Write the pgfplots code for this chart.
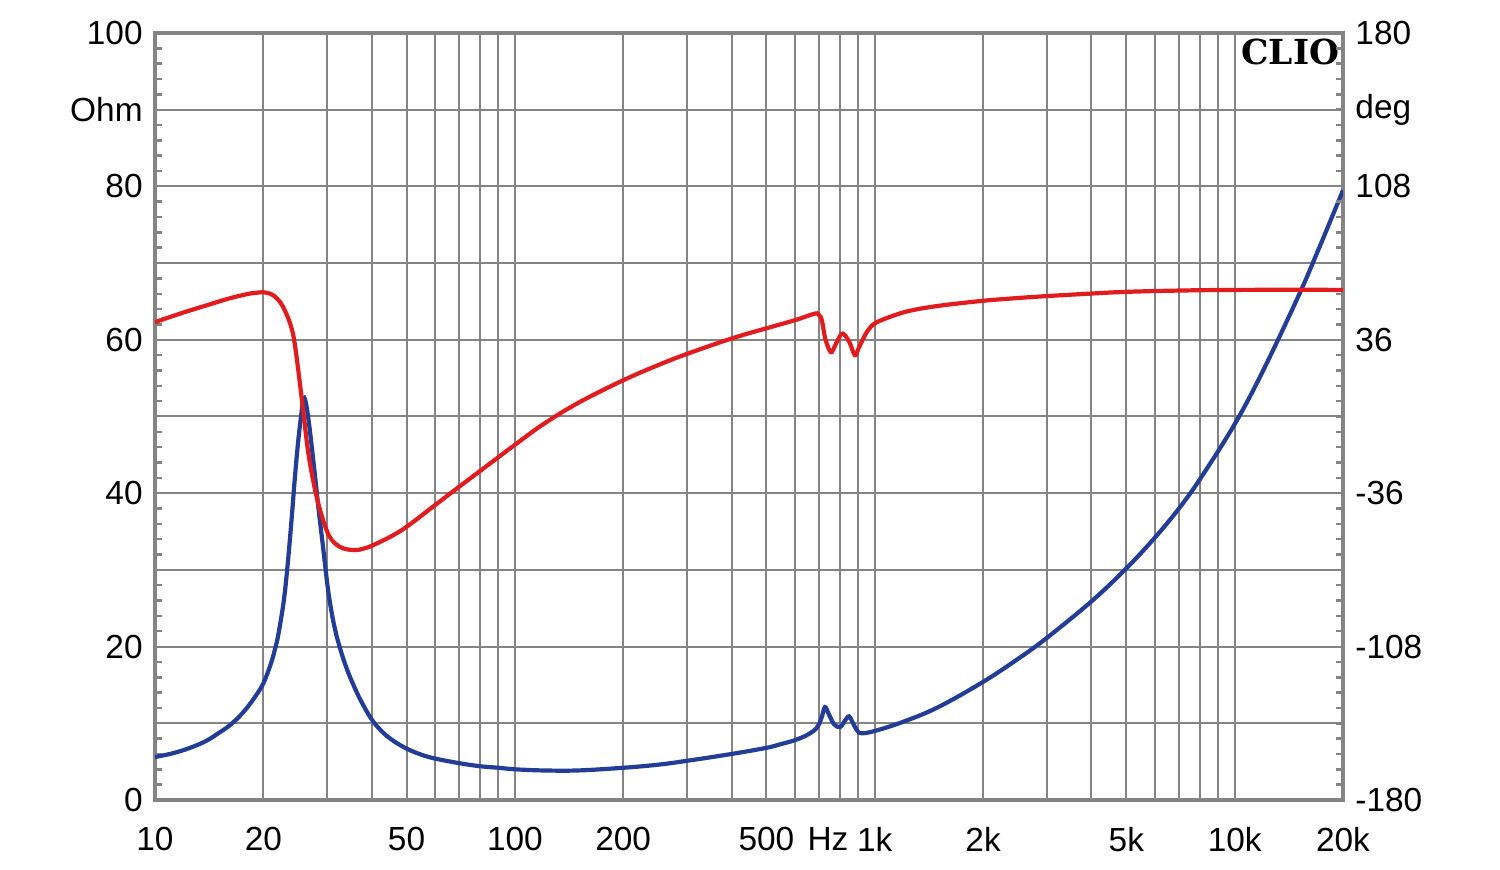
\documentclass[border=0pt]{standalone}
\usepackage{pgfplots}
\pgfplotsset{compat=1.18}
\usepackage{fontspec}
\setmainfont{Liberation Sans}
\newfontfamily\cliofont{DejaVu Serif}
\definecolor{gridgray}{RGB}{132,132,132}
\definecolor{curvered}{RGB}{224,28,30}
\definecolor{curveblue}{RGB}{35,60,150}

\begin{document}
\begin{tikzpicture}
\useasboundingbox (-15.5mm,-7mm) rectangle (134.5mm,80mm);
\begin{axis}[
  at={(0,0)}, anchor=south west,
  width=118.8mm, height=76.7mm, scale only axis,
  xmode=log, xmin=10, xmax=20000,
  ymin=0, ymax=100,
  tick align=inside,
  major tick length=0pt, minor tick length=0.7mm,
  tick style={gridgray, line width=0.25mm},
  tick label style={font=\fontsize{9.5}{11}\selectfont, black},
  xtick={10,20,30,40,50,60,70,80,90,100,200,300,400,500,600,700,800,900,1000,2000,3000,4000,5000,6000,7000,8000,9000,10000,20000},
  xticklabels={10,20,,,50,,,,,100,200,,,500,,,,,1k,2k,,,5k,,,,,10k,20k},
  extra x ticks={741}, extra x tick labels={Hz},
  extra x tick style={grid=none},
  xtick style={draw=none},
  xticklabel style={yshift=-1.5mm},
  ytick={0,10,20,30,40,50,60,70,80,90,100},
  yticklabels={0,,20,,40,,60,,80,Ohm,100},
  minor y tick num=4,
  ytick pos=left,
  xmajorgrids, ymajorgrids,
  axis line style={gridgray, line width=0.35mm},
  major grid style={gridgray, line width=0.2mm},
]
\addplot[curveblue, line width=0.42mm, smooth, tension=0.6] coordinates {
(10,5.6) (11,6.0) (12,6.5) (13,7.1) (14,7.8) (15,8.7) (16,9.6) (17,10.7)
(18,12.0) (19,13.5) (20,15.2) (21,17.8) (21.5,19.5) (22,21.5) (22.8,26.0)
(23.4,31.0) (24,37.0) (24.5,42.3) (25,46.8) (25.5,50.3) (25.9,52.4)
(26.3,51.6) (26.8,49.0) (27.3,45.8) (27.8,42.5) (28.5,37.8) (29.3,33.0)
(30,28.8) (30.5,26.3) (31.2,23.6) (32,21.3) (33,19.1) (34,17.3) (35,15.8)
(37,13.3) (40,10.5) (43,8.8) (46,7.7) (50,6.7) (55,5.9) (60,5.4) (70,4.8)
(80,4.4) (90,4.2) (100,4.0) (120,3.85) (150,3.85) (200,4.2) (250,4.6)
(300,5.1) (400,6.0) (500,6.8) (550,7.3) (600,7.8) (650,8.5) (690,9.4)
(710,10.6) (727,12.1) (745,11.2) (770,9.9) (800,9.5) (825,10.3) (848,10.9)
(870,10.0) (895,9.0) (921,8.7) (1000,9.0) (1200,10.2) (1500,12.1)
(2000,15.4) (2500,18.4) (3000,21.1) (4000,25.9) (5000,30.2) (6000,34.2)
(7000,38.0) (8000,41.8) (10000,49.0) (12000,56.0) (15000,65.6)
(17000,71.5) (20000,79.5)
};
\node[anchor=north east, inner sep=0pt, font=\cliofont\bfseries\fontsize{9.8}{12}\selectfont, xshift=-0.3mm, yshift=-0.5mm]
  at (rel axis cs:1,1) {CLIO};
\end{axis}
\begin{axis}[
  at={(0,0)}, anchor=south west,
  width=118.8mm, height=76.7mm, scale only axis,
  xmode=log, xmin=10, xmax=20000,
  ymin=-180, ymax=180,
  tick align=inside,
  major tick length=0pt, minor tick length=0.7mm,
  tick style={gridgray, line width=0.25mm},
  tick label style={font=\fontsize{9.5}{11}\selectfont, black},
  hide x axis,
  axis line style={draw=none},
  ytick={-180,-108,-36,36,108,180},
  yticklabels={-180,-108,-36,36,108,180},
  extra y ticks={144}, extra y tick labels={deg},
  minor y tick num=9,
  ytick pos=right,
]
\addplot[curvered, line width=0.42mm, smooth, tension=0.6] coordinates {
(10,44.3) (12,48.8) (14,52.3) (16,55.3) (18,57.4) (19,58.0) (20,58.3)
(21,57.5) (21.5,56.4) (22,54.8) (22.6,52.0) (23.2,48.0) (23.7,44.0)
(24.2,38.5) (24.6,31.0) (25,22.0) (25.8,3.0) (26.6,-15.8) (27.6,-31.3)
(28.7,-43.5) (30,-53.5) (31,-58.0) (32.6,-61.2) (34.5,-62.5) (36.4,-62.7)
(38,-62.0) (40,-60.7) (45,-56.5) (50,-51.8) (60,-41.6) (70,-33.0)
(80,-25.6) (90,-19.1) (100,-13.3) (120,-3.6) (150,6.4) (200,17.0)
(250,24.1) (300,29.3) (400,36.6) (500,41.4) (600,45.2) (683,48.3)
(700,47.5) (712,45.4) (730,36.0) (755,30.2) (775,33.1) (790,36.0)
(815,38.9) (850,34.9) (880,28.8) (900,31.7) (925,36.0) (960,40.7)
(1005,43.9) (1112,47.0) (1250,49.6) (1500,51.9) (2000,54.3) (2500,55.6)
(3000,56.5) (4000,57.7) (5000,58.5) (7000,59.1) (10000,59.4) (19000,59.4)
(20000,58.6)
};
\end{axis}
\end{tikzpicture}
\end{document}
